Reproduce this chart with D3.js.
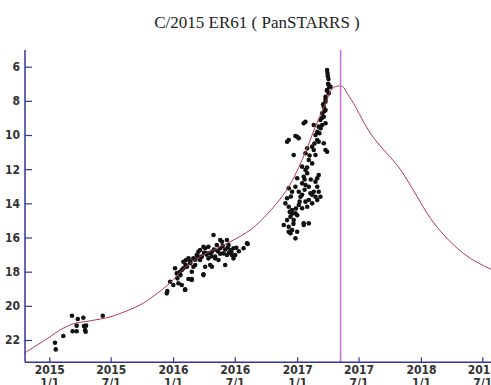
<!DOCTYPE html>
<html>
<head>
<meta charset="utf-8">
<script src="https://cdn.jsdelivr.net/npm/d3@7"></script>
<style>
  body { margin: 0; background: #fff; overflow: hidden; }
  svg { display: block; }
</style>
</head>
<body>
<div id="chart"></div>
<script>
const W = 491, H = 385;

const title = "C/2015 ER61 ( PanSTARRS )";
const xTicks = ["2015-01-01", "2015-07-01", "2016-01-01", "2016-07-01",
                "2017-01-01", "2017-07-01", "2018-01-01", "2018-07-01"];
const yTicks = [6, 8, 10, 12, 14, 16, 18, 20, 22];
const perihelion = "2017-05-09";

// predicted magnitude curve: [decimal year, magnitude]
const curve = [
  [2014.804, 22.74], [2014.925, 22.19], [2015.006, 21.81], [2015.086, 21.42],
  [2015.194, 21.05], [2015.329, 20.88], [2015.491, 20.65], [2015.572, 20.45],
  [2015.733, 19.95], [2015.814, 19.58], [2015.976, 18.66], [2016.083, 17.85],
  [2016.218, 17.12], [2016.353, 16.63], [2016.487, 16.15], [2016.622, 15.56],
  [2016.703, 15.05], [2016.824, 14.10], [2016.932, 13.03], [2017.040, 11.46],
  [2017.148, 9.51], [2017.229, 8.14], [2017.283, 7.30], [2017.323, 7.14],
  [2017.366, 7.16], [2017.404, 7.56], [2017.471, 8.34], [2017.538, 9.25],
  [2017.606, 10.05], [2017.700, 10.88], [2017.808, 11.76], [2017.889, 12.63],
  [2017.970, 13.61], [2018.077, 14.88], [2018.185, 15.85], [2018.293, 16.63],
  [2018.400, 17.22], [2018.549, 17.80], [2018.643, 18.08]
];

// observations: [decimal year, magnitude]
const obs2015 = [
  [2015.046, 22.16], [2015.052, 22.55], [2015.113, 21.77], [2015.183, 20.58],
  [2015.230, 20.77], [2015.275, 20.70], [2015.189, 21.49], [2015.221, 21.49],
  [2015.221, 21.16], [2015.280, 21.18], [2015.297, 21.16], [2015.289, 21.42],
  [2015.294, 21.52], [2015.432, 20.58]
];

const obs2016 = [
  [2015.949, 19.27], [2015.954, 19.13], [2016.035, 18.39], [2016.043, 18.68],
  [2016.070, 18.78], [2016.097, 19.03], [2016.124, 18.43], [2016.151, 18.43],
  [2016.051, 18.04], [2016.070, 17.90], [2016.083, 17.42], [2016.105, 17.32],
  [2016.124, 17.22], [2016.137, 17.51], [2016.164, 17.71], [2016.178, 17.61],
  [2016.111, 17.71], [2016.083, 17.80], [2016.245, 18.15], [2016.218, 17.32],
  [2016.232, 17.12], [2016.218, 16.73], [2016.245, 16.54], [2016.259, 16.63],
  [2016.272, 16.93], [2016.285, 17.22], [2016.299, 17.61], [2016.259, 17.71],
  [2016.313, 17.71], [2016.285, 16.54], [2016.313, 16.83], [2016.326, 15.85],
  [2016.339, 17.12], [2016.366, 17.32], [2016.353, 16.44], [2016.380, 16.63],
  [2016.394, 16.25], [2016.407, 16.93], [2016.420, 17.61], [2016.434, 17.02],
  [2016.447, 16.44], [2016.461, 16.73], [2016.474, 17.02], [2016.380, 16.15],
  [2016.434, 16.15], [2016.487, 16.63], [2016.501, 17.02], [2016.568, 16.63],
  [2016.601, 16.38], [2016.191, 17.02], [2016.164, 17.22], [2016.204, 16.83],
  [2016.151, 18.00], [2016.002, 18.78], [2016.016, 17.80], [2015.976, 18.59],
  [2016.487, 17.22], [2016.339, 17.22], [2016.596, 16.34], [2016.245, 18.20],
  [2016.097, 19.07], [2016.151, 18.49], [2016.300, 16.90], [2016.330, 16.70],
  [2016.360, 16.80], [2016.400, 16.50], [2016.420, 16.70], [2016.450, 16.90],
  [2016.270, 17.00], [2016.250, 16.90], [2016.310, 17.10], [2016.380, 16.95],
  [2016.440, 16.60], [2016.470, 16.85], [2016.510, 16.60], [2016.530, 16.80],
  [2016.180, 17.30], [2016.200, 17.10], [2016.140, 17.40], [2016.100, 17.60],
  [2016.060, 18.20], [2016.030, 18.10]
];

const obs2017 = [
  [2017.242, 6.19], [2017.245, 6.37], [2017.247, 6.54], [2017.253, 6.72],
  [2017.255, 7.07], [2017.269, 7.17], [2017.242, 7.36], [2017.255, 7.56],
  [2017.229, 7.76], [2017.229, 8.05], [2017.215, 8.34], [2017.229, 8.54],
  [2017.202, 8.73], [2017.215, 8.93], [2017.188, 9.12], [2017.202, 9.41],
  [2017.229, 9.31], [2017.174, 9.51], [2017.162, 9.81], [2017.134, 9.41],
  [2017.067, 9.22], [2017.148, 10.00], [2017.162, 10.29], [2017.174, 10.39],
  [2017.215, 10.48], [2017.229, 10.88], [2017.242, 10.98], [2017.121, 10.68],
  [2017.081, 10.78], [2017.134, 10.88], [2017.148, 11.17], [2016.986, 10.06],
  [2017.013, 10.19], [2016.932, 10.29], [2016.919, 10.39], [2016.972, 11.17],
  [2017.067, 11.07], [2017.094, 11.46], [2017.121, 11.66], [2017.040, 11.85],
  [2017.067, 12.05], [2017.081, 12.24], [2017.174, 12.34], [2017.162, 12.53],
  [2017.148, 12.73], [2017.053, 12.44], [2017.040, 12.83], [2017.067, 12.93],
  [2017.094, 13.03], [2017.000, 12.53], [2016.986, 13.03], [2016.932, 13.12],
  [2016.959, 13.32], [2017.013, 13.32], [2017.027, 13.61], [2017.107, 13.41],
  [2017.134, 13.32], [2017.148, 13.61], [2017.162, 13.80], [2017.121, 14.00],
  [2017.094, 13.80], [2017.081, 14.20], [2017.067, 13.90], [2017.040, 14.29],
  [2017.013, 14.10], [2016.919, 13.70], [2016.905, 14.00], [2016.932, 14.20],
  [2016.959, 14.39], [2016.986, 14.58], [2016.946, 14.78], [2016.919, 14.98],
  [2016.972, 14.98], [2016.932, 15.37], [2016.959, 15.56], [2016.946, 15.75],
  [2017.000, 15.66], [2017.053, 15.27], [2017.094, 15.17], [2016.986, 16.05],
  [2017.162, 13.03], [2017.174, 13.32], [2017.188, 13.61], [2017.000, 10.10],
  [2017.053, 9.31], [2016.892, 15.27], [2016.932, 15.66], [2017.053, 15.17],
  [2017.210, 8.20], [2017.220, 8.60], [2017.200, 9.00], [2017.190, 9.60],
  [2017.180, 9.90], [2017.230, 7.90], [2017.240, 7.40], [2017.250, 7.00],
  [2017.260, 7.20], [2017.140, 10.50], [2017.100, 11.20], [2017.080, 11.90],
  [2017.060, 12.60], [2017.040, 13.50], [2017.020, 13.90], [2016.990, 14.30],
  [2016.960, 14.60], [2016.940, 14.50], [2017.060, 13.20], [2017.110, 12.60],
  [2017.120, 13.50], [2017.000, 14.70], [2016.970, 15.20], [2016.950, 13.60]
];

// decimal year -> Date
const toDate = yr => {
  const y0 = Math.floor(yr);
  const a = Date.UTC(y0, 0, 1), b = Date.UTC(y0 + 1, 0, 1);
  return new Date(a + (yr - y0) * (b - a));
};

const AXIS = "#34349a";
const LEFT = 25, BOTTOM = 362.3, TOP = 50;

const svg = d3.select("#chart").append("svg")
  .attr("width", W).attr("height", H);

const x = d3.scaleUtc()
  .domain([new Date("2015-01-01"), new Date("2018-07-01")])
  .range([49.3, 482.3]);
const y = d3.scaleLinear()
  .domain([6, 22])
  .range([66.7, 340]);

svg.append("text")
  .attr("x", 257).attr("y", 28)
  .attr("text-anchor", "middle")
  .style("font-family", "'Liberation Serif', 'Times New Roman', serif")
  .style("font-size", "17px")
  .style("fill", "#222")
  .text(title);

// observations
const allObs = obs2015.concat(obs2016, obs2017);
svg.append("g").selectAll("circle")
  .data(allObs)
  .enter()
  .append("circle")
  .attr("cx", d => x(toDate(d[0])))
  .attr("cy", d => y(d[1]))
  .attr("r", 2.3)
  .style("fill", "#111");

// predicted light curve
const line = d3.line()
  .x(d => x(toDate(d[0])))
  .y(d => y(d[1]))
  .curve(d3.curveCatmullRom.alpha(0.5));
svg.append("path")
  .datum(curve)
  .attr("d", line)
  .attr("fill", "none")
  .attr("stroke", "#b03c4c")
  .attr("stroke-width", 1);

// perihelion marker
svg.append("line")
  .attr("x1", x(new Date(perihelion))).attr("x2", x(new Date(perihelion)))
  .attr("y1", TOP).attr("y2", BOTTOM)
  .attr("stroke", "#c070d0")
  .attr("stroke-width", 1.5);

const labelFont = "'Liberation Sans Narrow', 'Arial Narrow', 'DejaVu Sans Condensed', sans-serif";

// y axis
const yAxis = svg.append("g")
  .attr("transform", `translate(${LEFT},0)`)
  .call(d3.axisLeft(y).tickValues(yTicks).tickSize(-7).tickPadding(5));
yAxis.select(".domain").remove();
yAxis.selectAll("line").attr("stroke", AXIS).attr("stroke-width", 1.2);
yAxis.selectAll("text")
  .style("font-family", labelFont)
  .style("font-size", "12px")
  .style("font-weight", "bold")
  .style("fill", "#333");

// x axis: two-line labels, second line runs off the bottom like the original
const xAxis = svg.append("g")
  .attr("transform", `translate(0,${BOTTOM})`)
  .call(d3.axisBottom(x).tickValues(xTicks.map(d => new Date(d))).tickSize(-5).tickPadding(3));
xAxis.select(".domain").remove();
xAxis.selectAll("line").attr("stroke", AXIS).attr("stroke-width", 1.2);
xAxis.selectAll("text")
  .style("font-family", labelFont)
  .style("font-size", "12px")
  .style("font-weight", "bold")
  .style("fill", "#333")
  .each(function(d) {
    const t = d3.select(this).text("");
    t.append("tspan").attr("x", 0).text(d.getUTCFullYear());
    t.append("tspan").attr("x", 0).attr("dy", "1.1em")
      .text((d.getUTCMonth() + 1) + "/1");
  });

// axis lines
svg.append("line")
  .attr("x1", LEFT).attr("x2", LEFT).attr("y1", TOP).attr("y2", BOTTOM)
  .attr("stroke", AXIS).attr("stroke-width", 1.5);
svg.append("line")
  .attr("x1", LEFT).attr("x2", W).attr("y1", BOTTOM).attr("y2", BOTTOM)
  .attr("stroke", AXIS).attr("stroke-width", 1.5);
</script>
</body>
</html>
